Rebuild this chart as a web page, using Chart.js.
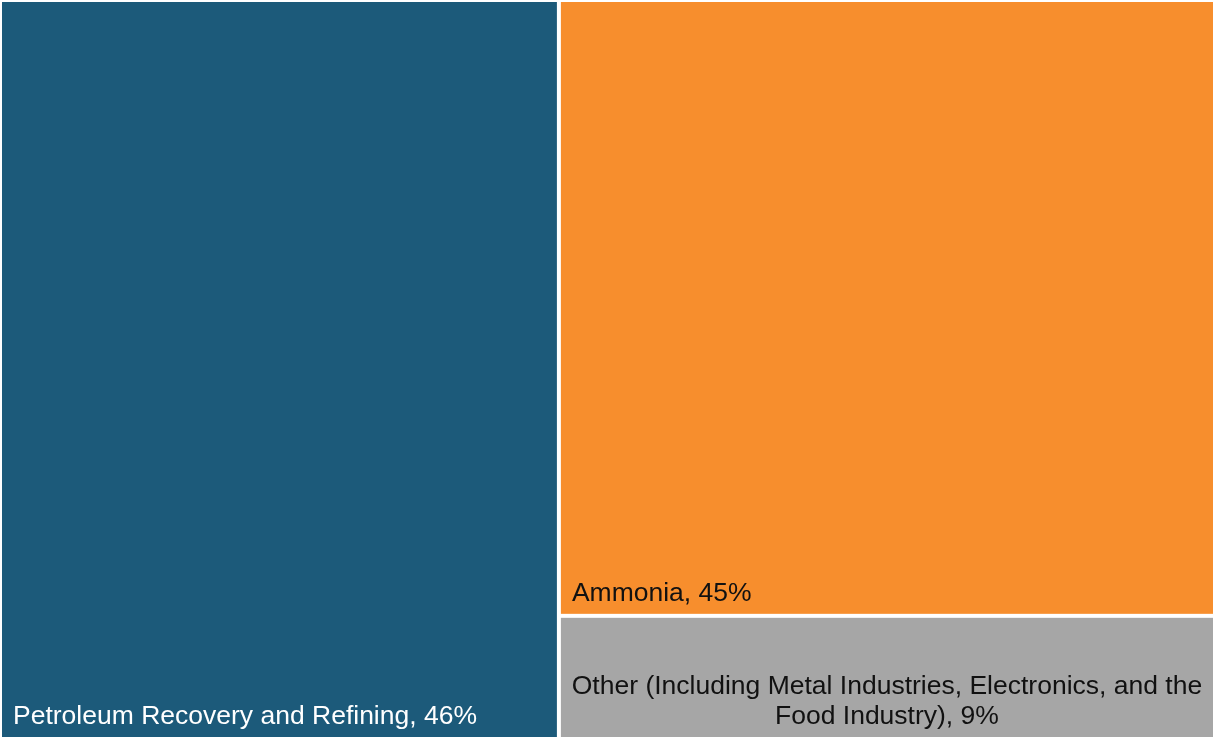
<!DOCTYPE html>
<html>
<head>
<meta charset="utf-8">
<title>Treemap</title>
<script src="https://cdn.jsdelivr.net/npm/chart.js@4.4.1/dist/chart.umd.min.js"></script>
<style>
  html, body { margin: 0; padding: 0; background: #fff; overflow: hidden; }
  #wrap { position: absolute; left: 0; top: 0; width: 1215px; height: 739px; }
</style>
</head>
<body>
<div id="wrap"><canvas id="tree"></canvas></div>
<script>
// ===== DATA =====
const categories = ["Petroleum Recovery and Refining", "Ammonia", "Other (Including Metal Industries, Electronics, and the Food Industry)"];
const shares = [46, 45, 9];

// ===== STYLE =====
const fills = ["#1c5a7a", "#f78e2d", "#a6a6a6"];
const inks = ["#ffffff", "#111111", "#111111"];
const aligns = ["left", "left", "center"];
const FONT = '26.5px "Liberation Sans", Arial, sans-serif';
const GAP = 2;      // half of white gutter
const LINE_H = 30;

// squarified layout in fractions (0..1 of width / height), aspect = w/h of area
function squarify(vals, aspect) {
  const out = [];
  let x = 0, y = 0, w = 1, h = 1, i = 0;
  const worst = (row, side) => {
    const s = row.reduce((a, b) => a + b, 0);
    let m = 0;
    row.forEach(a => { const r = Math.max(side * side * a / (s * s), (s * s) / (side * side * a)); m = Math.max(m, r); });
    return m;
  };
  while (i < vals.length) {
    const Wp = w * aspect, Hp = h; // real proportions
    const side = Math.min(Wp, Hp);
    const restSum = vals.slice(i).reduce((a, b) => a + b, 0);
    const scale = Wp * Hp / restSum;
    let row = [vals[i] * scale], j = i + 1;
    while (j < vals.length) {
      const next = row.concat(vals[j] * scale);
      if (worst(next, side) <= worst(row, side)) { row = next; j++; } else break;
    }
    const rs = row.reduce((a, b) => a + b, 0);
    if (Wp >= Hp) { // column on left
      const cw = rs / Hp / aspect; let cy = y;
      for (let k = i; k < j; k++) { const hh = vals[k] * scale / rs * h; out[k] = { x0: x, y0: cy, x1: x + cw, y1: cy + hh }; cy += hh; }
      x += cw; w -= cw;
    } else { // row on top
      const rh = rs / Wp; let cx = x;
      for (let k = i; k < j; k++) { const ww = vals[k] * scale / rs * w; out[k] = { x0: cx, y0: y, x1: cx + ww, y1: y + rh }; cx += ww; }
      y += rh; h -= rh;
    }
    i = j;
  }
  return out;
}

function wrap(ctx, text, maxW) {
  const words = text.split(" "), lines = [];
  let cur = "";
  words.forEach(wd => {
    const t = cur ? cur + " " + wd : wd;
    if (ctx.measureText(t).width > maxW && cur) { lines.push(cur); cur = wd; } else cur = t;
  });
  if (cur) lines.push(cur);
  return lines;
}

const treemapPlugin = {
  id: "treemapTiles",
  afterDatasetsDraw(chart) {
    const { ctx, chartArea, scales: { x: sx, y: sy } } = chart;
    const rects = squarify(shares, chartArea.width / chartArea.height);
    ctx.save();
    rects.forEach((r, k) => {
      const px0 = sx.getPixelForValue(r.x0 * 100) + GAP;
      const px1 = sx.getPixelForValue(r.x1 * 100) - GAP;
      const py0 = sy.getPixelForValue(r.y0 * 100) + GAP;
      const py1 = sy.getPixelForValue(r.y1 * 100) - GAP;
      ctx.fillStyle = fills[k];
      ctx.fillRect(px0, py0, px1 - px0, py1 - py0);

      ctx.font = FONT;
      ctx.fillStyle = inks[k];
      ctx.textBaseline = "alphabetic";
      const label = categories[k] + ", " + shares[k] + "%";
      const lines = wrap(ctx, label, px1 - px0 - 10);
      let base = py1 - 13 - (lines.length - 1) * LINE_H;
      lines.forEach(ln => {
        if (aligns[k] === "center") { ctx.textAlign = "center"; ctx.fillText(ln, (px0 + px1) / 2, base); }
        else { ctx.textAlign = "left"; ctx.fillText(ln, px0 + 11, base); }
        base += LINE_H;
      });
    });
    ctx.restore();
  }
};

new Chart(document.getElementById("tree"), {
  type: "scatter",
  data: { datasets: [{ data: [] }] },
  options: {
    responsive: true,
    maintainAspectRatio: false,
    animation: false,
    layout: { padding: 0 },
    scales: {
      x: { type: "linear", min: 0, max: 100, display: false },
      y: { type: "linear", min: 0, max: 100, reverse: true, display: false }
    },
    plugins: { legend: { display: false }, tooltip: { enabled: false } }
  },
  plugins: [treemapPlugin]
});
</script>
</body>
</html>
